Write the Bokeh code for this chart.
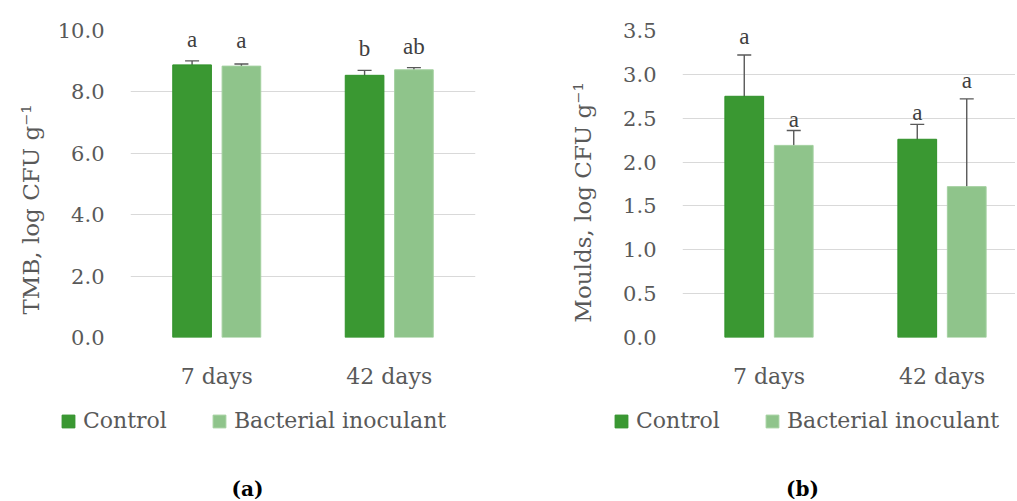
import math
from bokeh.plotting import figure
from bokeh.layouts import row, column
from bokeh.models import (ColumnDataSource, Range1d, FixedTicker, NumeralTickFormatter,
                          Whisker, TeeHead, Label, LabelSet, Legend, LegendItem)
from bokeh.transform import dodge
from bokeh.embed import file_html
from bokeh.resources import INLINE

# ---------------- data ----------------
categories = ["7 days", "42 days"]
series_names = ["Control", "Bacterial inoculant"]

tmb_control = [8.88, 8.54]
tmb_control_err = [0.13, 0.16]
tmb_control_letters = ["a", "b"]
tmb_inoculant = [8.84, 8.72]
tmb_inoculant_err = [0.07, 0.07]
tmb_inoculant_letters = ["a", "ab"]

moulds_control = [2.75, 2.26]
moulds_control_err = [0.47, 0.17]
moulds_control_letters = ["a", "a"]
moulds_inoculant = [2.19, 1.72]
moulds_inoculant_err = [0.17, 1.00]
moulds_inoculant_letters = ["a", "a"]

tmb_ticks = [0, 2, 4, 6, 8, 10]
moulds_ticks = [0, 0.5, 1.0, 1.5, 2.0, 2.5, 3.0, 3.5]

# ---------------- style ----------------
FONT = "DejaVu Serif"
C_CTRL = "#3A9832"
C_CTRL_LINE = "#2F9129"
C_INOC = "#8FC48B"
C_INOC_LINE = "#A3D09F"
GREY = "#595959"
GRID = "#D9D9D9"
OFF = 0.143
BAR_W = 0.224
CHART_H = 395
FOOT_H = 104
FRAME_BOTTOM = 337
# pixel gap between error-bar cap and letter baseline (style, per bar)
tmb_ctrl_gap = [14, 14]
tmb_inoc_gap = [16, 14]
moulds_ctrl_gap = [11, 4]
moulds_inoc_gap = [3, 11]


def blank(width, height):
    f = figure(width=width, height=height, output_backend="svg", toolbar_location=None,
               x_axis_location=None, y_axis_location=None,
               x_range=Range1d(0, 1), y_range=Range1d(0, 1),
               min_border=0, min_border_left=0, min_border_right=0,
               min_border_top=0, min_border_bottom=0)
    f.outline_line_color = None
    f.xgrid.visible = False
    f.ygrid.visible = False
    return f


def ytitle(width, text, cx, cy):
    f = blank(width, CHART_H)
    f.add_layout(Label(x=cx, y=FRAME_BOTTOM - cy, x_units="screen", y_units="screen",
                       text=text, angle=math.pi / 2, text_align="center",
                       text_baseline="middle", text_font=FONT, text_font_size="23px",
                       text_color=GREY))
    return f


def chart(width, border_left, border_right, x_end, y_end, ticks,
          ctrl, ctrl_err, ctrl_let, inoc, inoc_err, inoc_let, ctrl_gap, inoc_gap):
    p = figure(width=width, height=CHART_H, output_backend="svg", toolbar_location=None,
               x_range=Range1d(0, x_end), y_range=Range1d(0, y_end),
               min_border_left=border_left, min_border_right=border_right,
               min_border_top=30, min_border_bottom=CHART_H - FRAME_BOTTOM)
    p.outline_line_color = None

    pos = [i + 0.5 for i in range(len(categories))]
    src = ColumnDataSource(dict(
        x=pos, ctrl=ctrl, inoc=inoc,
        ctrl_lo=[v - e for v, e in zip(ctrl, ctrl_err)],
        ctrl_hi=[v + e for v, e in zip(ctrl, ctrl_err)],
        inoc_lo=[v - e for v, e in zip(inoc, inoc_err)],
        inoc_hi=[v + e for v, e in zip(inoc, inoc_err)],
        ctrl_let=ctrl_let, inoc_let=inoc_let,
        ctrl_gap=ctrl_gap, inoc_gap=inoc_gap))

    p.vbar(x=dodge("x", -OFF), top="ctrl", width=BAR_W, source=src,
           fill_color=C_CTRL, line_color=C_CTRL_LINE, line_width=1)
    p.vbar(x=dodge("x", OFF), top="inoc", width=BAR_W, source=src,
           fill_color=C_INOC, line_color=C_INOC_LINE, line_width=1)

    for off, lo, hi in ((-OFF, "ctrl_lo", "ctrl_hi"), (OFF, "inoc_lo", "inoc_hi")):
        p.add_layout(Whisker(base=dodge("x", off), lower=lo, upper=hi, source=src,
                             line_color=GREY, line_width=1.4,
                             upper_head=TeeHead(size=14, line_color=GREY, line_width=1.4),
                             lower_head=TeeHead(size=14, line_color=GREY, line_width=1.4)))

    for off, hi, let, gap in ((-OFF, "ctrl_hi", "ctrl_let", "ctrl_gap"),
                              (OFF, "inoc_hi", "inoc_let", "inoc_gap")):
        p.add_layout(LabelSet(x=dodge("x", off), y=hi, text=let, source=src,
                              y_offset=gap, text_align="center",
                              text_baseline="alphabetic", text_font=FONT,
                              text_font_size="23px", text_color="#404040"))

    p.xgrid.visible = False
    p.ygrid.grid_line_color = GRID
    p.ygrid.grid_line_width = 1.2
    p.yaxis.ticker = FixedTicker(ticks=ticks)
    p.yaxis.formatter = NumeralTickFormatter(format="0.0")
    p.xaxis.ticker = FixedTicker(ticks=pos)
    p.xaxis.major_label_overrides = {pp: c for pp, c in zip(pos, categories)}
    for ax in (p.xaxis[0], p.yaxis[0]):
        ax.axis_line_color = None
        ax.major_tick_line_color = None
        ax.minor_tick_line_color = None
        ax.major_tick_out = 0
        ax.major_tick_in = 0
        ax.minor_tick_out = 0
        ax.minor_tick_in = 0
        ax.major_label_text_font = FONT
        ax.major_label_text_color = GREY
    p.yaxis.major_label_text_font_size = "21px"
    p.yaxis.major_label_standoff = 26
    p.xaxis.major_label_text_font_size = "22px"
    p.xaxis.major_label_standoff = 26
    return p


def footer(width, legend_x, caption, caption_x):
    f = blank(width, FOOT_H)
    # legend-only glyphs, placed outside the visible range
    key = ColumnDataSource(dict(x=[-5.0], top=[-5.0]))
    d1 = f.vbar(x="x", top="top", width=0.1, source=key,
                fill_color=C_CTRL, line_color=C_CTRL_LINE)
    d2 = f.vbar(x="x", top="top", width=0.1, source=key,
                fill_color=C_INOC, line_color=C_INOC_LINE)
    legend = Legend(items=[LegendItem(label=series_names[0], renderers=[d1]),
                           LegendItem(label=series_names[1], renderers=[d2])],
                    orientation="horizontal", location=(legend_x, FOOT_H - 38),
                    glyph_width=16, glyph_height=16, label_standoff=7, spacing=44,
                    padding=0, margin=0, border_line_color=None,
                    background_fill_alpha=0,
                    label_text_font=FONT, label_text_font_size="22px",
                    label_text_color=GREY)
    f.add_layout(legend)
    f.add_layout(Label(x=caption_x, y=FOOT_H - 93, x_units="screen", y_units="screen",
                       text=caption, text_align="center", text_baseline="middle",
                       text_font=FONT, text_font_size="20px", text_font_style="bold",
                       text_color="black"))
    return f


ya = ytitle(50, "TMB, log CFU g\u207b\u00b9", 30, 209)
ca = chart(458, 80, 33, 2.0, 10.0, tmb_ticks,
           tmb_control, tmb_control_err, tmb_control_letters,
           tmb_inoculant, tmb_inoculant_err, tmb_inoculant_letters,
           tmb_ctrl_gap, tmb_inoc_gap)
fa = footer(508, 60, "(a)", 247)

yb = ytitle(100, "Moulds, log CFU g\u207b\u00b9", 74, 202)
cb = chart(407, 74, 0, 333 / 173, 3.5, moulds_ticks,
           moulds_control, moulds_control_err, moulds_control_letters,
           moulds_inoculant, moulds_inoculant_err, moulds_inoculant_letters,
           moulds_ctrl_gap, moulds_inoc_gap)
fb = footer(507, 105, "(b)", 294)

left = column(row(ya, ca, spacing=0), fa, spacing=0)
right = column(row(yb, cb, spacing=0), fb, spacing=0)
layout = row(left, right, spacing=0)
open("out.html", "w").write(file_html(layout, INLINE))
